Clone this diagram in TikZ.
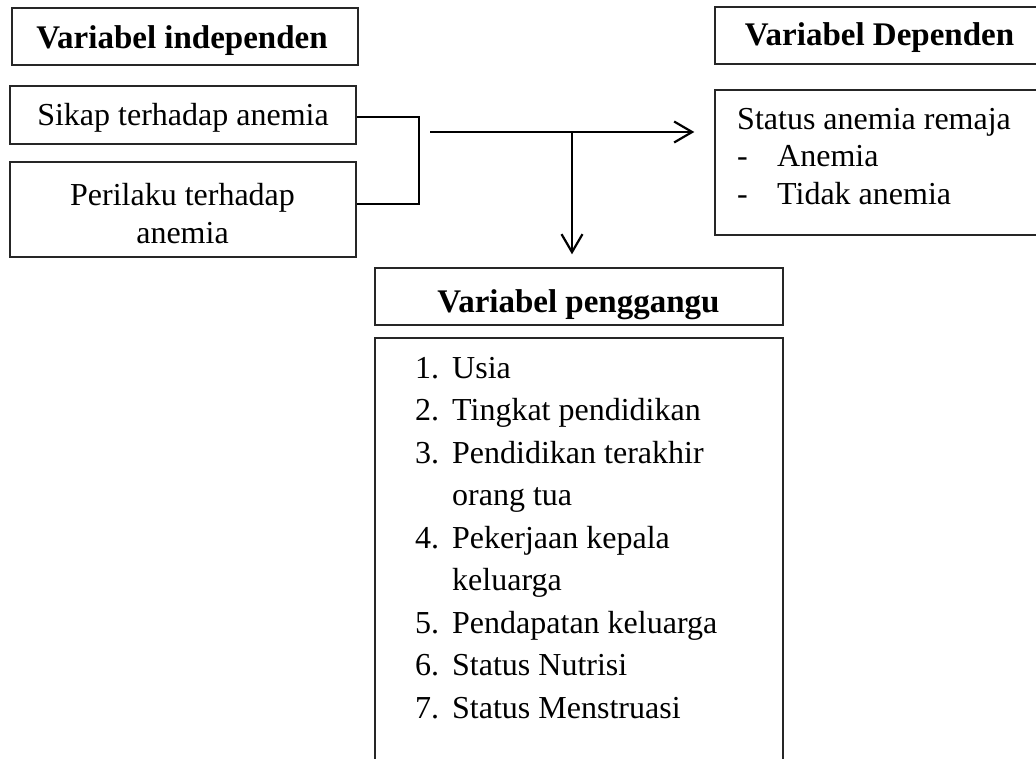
\documentclass[tikz,border=0pt]{standalone}
\usepackage{fontspec}
\setmainfont{Liberation Serif}
\usetikzlibrary{arrows.meta}
\begin{document}
\begin{tikzpicture}[x=1pt,y=-1pt,
  box/.style={draw=black!85, line width=1.4pt, inner sep=0pt},
  txt/.style={font=\fontsize{32}{38}\selectfont, inner sep=0pt},
  hd/.style={font=\fontsize{33}{38}\selectfont\bfseries, inner sep=0pt},
  conn/.style={line width=2.2pt, black},
  arr/.style={conn, -{Straight Barb[length=18pt,width=21pt,line width=2.2pt]}}]
\useasboundingbox (0,0) rectangle (1036,758);
\clip (0,0) rectangle (1036,758);
% boxes
\node[box, minimum width=346, minimum height=57] (indep) at (185,36.5) {};
\node[box, minimum width=346, minimum height=58] (sikap) at (183,115) {};
\node[box, minimum width=346, minimum height=95] (perilaku) at (183,209.5) {};
\node[box, minimum width=330, minimum height=57] (deph) at (880,35.5) {};
\node[box, minimum width=330, minimum height=145] (dep) at (880,162.5) {};
\node[box, minimum width=408, minimum height=57] (pengh) at (579,296.5) {};
\node[box, minimum width=408, minimum height=462] (list) at (579,569) {};
% texts
\node[hd, anchor=base] (tindep) at (182,48) {Variabel independen};
\node[txt, anchor=base] (tsikap) at (183,125) {Sikap terhadap anemia};
\node[txt, anchor=base] (tper1) at (182.5,205) {Perilaku terhadap};
\node[txt, anchor=base] (tper2) at (182.5,243) {anemia};
\node[hd, anchor=base] (tdeph) at (879.5,45) {Variabel Dependen};
\node[txt, anchor=base west] (td0) at (737,129) {Status anemia remaja};
\node[txt, anchor=base west] (td1a) at (737,166.5) {-};
\node[txt, anchor=base west] (td1) at (777,166.5) {Anemia};
\node[txt, anchor=base west] (td2a) at (737,204) {-};
\node[txt, anchor=base west] (td2) at (777,204) {Tidak anemia};
\node[hd, anchor=base] (tpengh) at (578.5,312) {Variabel penggangu};
\node[txt, anchor=base west] (n1) at (415,378) {1.};
\node[txt, anchor=base west] (l1) at (452,378) {Usia};
\node[txt, anchor=base west] (n2) at (415,420.5) {2.};
\node[txt, anchor=base west] (l2) at (452,420.5) {Tingkat pendidikan};
\node[txt, anchor=base west] (n3) at (415,463) {3.};
\node[txt, anchor=base west] (l3) at (452,463) {Pendidikan terakhir};
\node[txt, anchor=base west] (l3b) at (452,505.5) {orang tua};
\node[txt, anchor=base west] (n4) at (415,548) {4.};
\node[txt, anchor=base west] (l4) at (452,548) {Pekerjaan kepala};
\node[txt, anchor=base west] (l4b) at (452,590.5) {keluarga};
\node[txt, anchor=base west] (n5) at (415,633) {5.};
\node[txt, anchor=base west] (l5) at (452,633) {Pendapatan keluarga};
\node[txt, anchor=base west] (n6) at (415,675.5) {6.};
\node[txt, anchor=base west] (l6) at (452,675.5) {Status Nutrisi};
\node[txt, anchor=base west] (n7) at (415,718) {7.};
\node[txt, anchor=base west] (l7) at (452,718) {Status Menstruasi};
% connectors
\coordinate (brk) at (419,117);
\draw[conn, line width=1.8pt] ([yshift=-2pt]sikap.east) -- (brk) |- ([yshift=5.5pt]perilaku.east);
\coordinate (h0) at (430,132);
\coordinate (hj) at (572,132);
\draw[arr, shorten >=20pt] (h0) -- (h0 -| dep.west);
\draw[arr, shorten >=13pt] (hj) -- (hj |- pengh.north);
\end{tikzpicture}
\end{document}
